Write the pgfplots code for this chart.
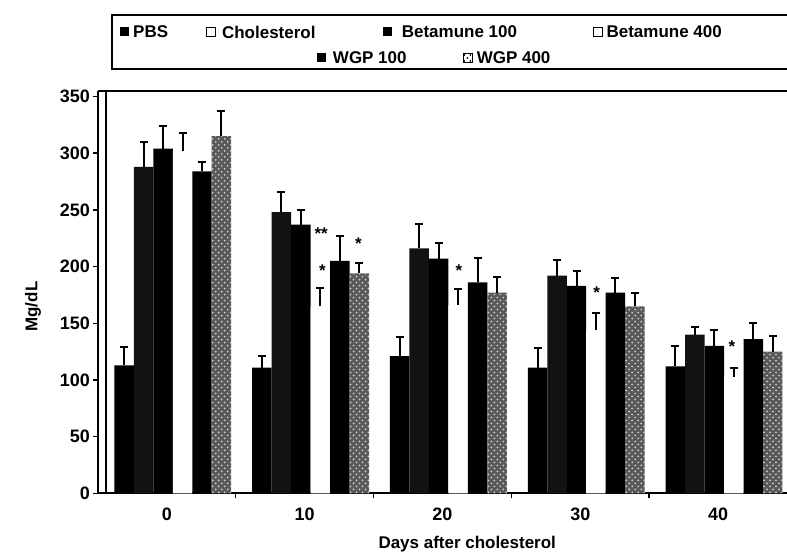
\documentclass[border=0pt]{standalone}
\usepackage{fontspec}
\setmainfont{Liberation Sans}
\usepackage{pgfplots}
\pgfplotsset{compat=1.18}
\usetikzlibrary{patterns}

\begin{document}
\begin{tikzpicture}[font=\fontsize{8.5}{10}\selectfont\bfseries]
\begin{axis}[
  name=main, at={(0,0)}, anchor=south west,
  scale only axis, width=345pt, height=201.5pt,
  ybar=0pt, bar width=9.75pt,
  xmin=-0.5, xmax=4.5, ymin=0, ymax=355,
  axis x line*=bottom, axis y line*=left,
  axis line style={line width=1pt},
  tick align=outside, major tick length=2.5pt,
  tick style={line width=0.8pt, black},
  ytick={0,50,...,350},
  xtick={0.5,1.5,2.5,3.5}, xticklabels={},
  extra x ticks={0,1,2,3,4}, extra x tick labels={0,10,20,30,40},
  extra x tick style={major tick length=0pt},
  /pgf/number format/assume math mode=true,
  ticklabel style={font=\fontsize{9}{10}\selectfont\bfseries},
  xticklabel style={yshift=-4pt},
  yticklabel style={xshift=2pt},
  xlabel={Days after cholesterol}, ylabel={Mg/dL},
  every axis x label/.style={at={(axis description cs:0.536,-0.127)}, anchor=center},
  every axis y label/.style={at={(axis description cs:-0.094,0.464)}, rotate=90, anchor=center},
  every axis plot/.append style={draw=none, xshift=3pt,
    error bars/y dir=plus, error bars/y explicit,
    error bars/error bar style={draw=black, line width=1pt},
    error bars/error mark options={rotate=90, mark size=2pt, line width=1pt, draw=black}},
  ]
% PBS
\addplot[fill=black] coordinates {(0,113) +- (0,16) (1,111) +- (0,10) (2,121) +- (0,17) (3,111) +- (0,17) (4,112) +- (0,18)};
% Cholesterol
\addplot[fill=black!93] coordinates {(0,288) +- (0,22) (1,248) +- (0,18) (2,216) +- (0,22) (3,192) +- (0,14) (4,140) +- (0,7)};
% Betamune 100
\addplot[fill=black] coordinates {(0,304) +- (0,20) (1,237) +- (0,13) (2,207) +- (0,14) (3,183) +- (0,13) (4,130) +- (0,14)};
% Betamune 400
\addplot[fill=white] coordinates {(0,302) +- (0,16) (1,165) +- (0,16) (2,166) +- (0,14) (3,144) +- (0,15) (4,103) +- (0,8)};
% WGP 100
\addplot[fill=black] coordinates {(0,284) +- (0,8) (1,205) +- (0,22) (2,186) +- (0,22) (3,177) +- (0,13) (4,136) +- (0,14)};
% WGP 400
\addplot[fill=black!65, postaction={pattern=crosshatch dots, pattern color=white!80!black}] coordinates {(0,315) +- (0,22) (1,194) +- (0,9) (2,177) +- (0,14) (3,165) +- (0,12) (4,125) +- (0,14)};

\node[anchor=base, yshift=-5pt] at (axis cs:1.12,233) {**};
\node[anchor=base, yshift=-5pt] at (axis cs:1.13,200) {*};
\node[anchor=base, yshift=-5pt] at (axis cs:1.39,224) {*};
\node[anchor=base, yshift=-5pt] at (axis cs:2.12,200) {*};
\node[anchor=base, yshift=-5pt] at (axis cs:3.12,181) {*};
\node[anchor=base, yshift=-5pt] at (axis cs:4.10,133) {*};
\end{axis}

% frame pieces
\draw[line width=1pt] (main.north west) -- (main.north east);
\draw[line width=0.8pt] ([xshift=4pt]main.south west) -- ([xshift=4pt]main.north west);

% legend
\draw[line width=1pt] (346pt,239.5pt) -- (7pt,239.5pt) -- (7pt,212.5pt) -- (346pt,212.5pt);
\begin{scope}[every node/.style={anchor=west, inner sep=0pt}]
\fill[black] (11pt,228.75pt) rectangle ++(4.5pt,4.5pt);
\node at (17.5pt,231pt) {PBS};
\draw[line width=0.7pt, fill=white] (54.5pt,228.75pt) rectangle ++(4.5pt,4.5pt);
\node at (62pt,231pt) {Cholesterol};
\fill[black] (142.5pt,228.75pt) rectangle ++(4.5pt,4.5pt);
\node at (152pt,231pt) {Betamune 100};
\draw[line width=0.7pt, fill=white] (248pt,228.75pt) rectangle ++(4.5pt,4.5pt);
\node at (254.5pt,231pt) {Betamune 400};
\fill[black] (109.5pt,215.75pt) rectangle ++(4.5pt,4.5pt);
\node at (117.5pt,218pt) {WGP 100};
\draw[line width=0.7pt, fill=white, postaction={pattern=crosshatch dots}] (183pt,215.75pt) rectangle ++(4.5pt,4.5pt);
\node at (189.5pt,218pt) {WGP 400};
\end{scope}

\pgfresetboundingbox
\path[use as bounding box] (-49pt,-31pt) rectangle (345pt,247pt);
\end{tikzpicture}
\end{document}
